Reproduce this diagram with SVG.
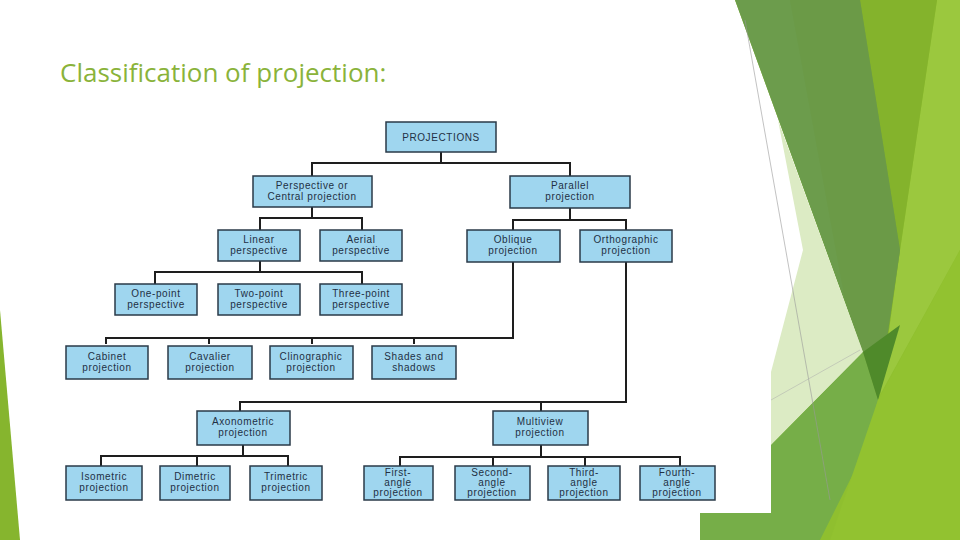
<svg xmlns="http://www.w3.org/2000/svg" width="960" height="540" viewBox="0 0 960 540">
<style>
.b rect{fill:#9fd6ef;stroke:#2a3a48;stroke-width:1.5}
.b text{font-family:"Liberation Sans",Arial,sans-serif;font-size:10px;fill:#223044;text-anchor:middle;letter-spacing:0.6px}
#conn path{fill:none;stroke:#1e1e1e;stroke-width:2}
</style>
<rect width="960" height="540" fill="#fff"/>
<g id="deco">
<polygon points="735,0 960,0 960,540 700,540 700,513 771,513 771,445 863,352" fill="#8fbf2f"/>
<polygon points="937,0 960,0 960,250 880,395 900,250" fill="#9bc83e"/>
<polygon points="860,0 937,0 900,250 880,395" fill="#84b32c"/>
<polygon points="735,0 860,0 900,250 878,400 863,352" fill="#6c9c4c"/>
<polygon points="790,0 860,0 900,250 878,400 845,300" fill="#6a9a44" opacity="0.6"/>
<polygon points="778,120 803,250 771,372 771,445 863,352" fill="#dcebc4"/>
<polygon points="771,445 863,352 878,400 860,460 820,540 700,540 700,513 771,513" fill="#76ae48"/>
<polygon points="863,352 878,400 900,325" fill="#4f8a2a"/>
<polygon points="878,400 960,250 960,540 830,540" fill="#92c230"/>
<polygon points="0,310 20,540 0,540" fill="#86b52e"/>
<line x1="745" y1="20" x2="830" y2="500" stroke="#999" stroke-width="0.6"/>
<line x1="771" y1="400" x2="860" y2="350" stroke="#aaa" stroke-width="0.5"/>
</g>
<text x="60" y="82" font-family="'Open Sans','Liberation Sans',sans-serif" font-size="26" fill="#8ab33a">Classification of projection:</text>
<g id="conn">
<path d="M441,152V163M312,176V163H570V176"/>
<path d="M312,207V218M260,230V218H362V230"/>
<path d="M570,208V220M513,230V220H626V230"/>
<path d="M260,261V272M155,284V272H362V284"/>
<path d="M513,262V338H106V344M209,338V344M312,338V344M414,338V344"/>
<path d="M626,262V402H240V411M541,402V411"/>
<path d="M243,445V456M101,466V456H288V466M197,456V466"/>
<path d="M541,445V457M400,466V457H680V466M493,457V466M585,457V466"/>
</g>
<g id="n0" class="b"><rect x="386" y="122" width="110" height="30"/><text x="441" y="141">PROJECTIONS</text></g>
<g id="n1" class="b"><rect x="253" y="176" width="119" height="31"/><text x="312" y="189">Perspective or</text><text x="312" y="200">Central projection</text></g>
<g id="n2" class="b"><rect x="510" y="176" width="120" height="32"/><text x="570" y="189">Parallel</text><text x="570" y="200">projection</text></g>
<g id="n3" class="b"><rect x="218" y="230" width="82" height="31"/><text x="259" y="243">Linear</text><text x="259" y="254">perspective</text></g>
<g id="n4" class="b"><rect x="320" y="230" width="82" height="31"/><text x="361" y="243">Aerial</text><text x="361" y="254">perspective</text></g>
<g id="n5" class="b"><rect x="467" y="230" width="93" height="32"/><text x="513" y="243">Oblique</text><text x="513" y="254">projection</text></g>
<g id="n6" class="b"><rect x="580" y="230" width="92" height="32"/><text x="626" y="243">Orthographic</text><text x="626" y="254">projection</text></g>
<g id="n7" class="b"><rect x="115" y="284" width="82" height="31"/><text x="156" y="297">One-point</text><text x="156" y="308">perspective</text></g>
<g id="n8" class="b"><rect x="218" y="284" width="82" height="31"/><text x="259" y="297">Two-point</text><text x="259" y="308">perspective</text></g>
<g id="n9" class="b"><rect x="320" y="284" width="82" height="31"/><text x="361" y="297">Three-point</text><text x="361" y="308">perspective</text></g>
<g id="n10" class="b"><rect x="66" y="346" width="82" height="33"/><text x="107" y="360">Cabinet</text><text x="107" y="371">projection</text></g>
<g id="n11" class="b"><rect x="168" y="346" width="84" height="33"/><text x="210" y="360">Cavalier</text><text x="210" y="371">projection</text></g>
<g id="n12" class="b"><rect x="270" y="346" width="83" height="33"/><text x="311" y="360">Clinographic</text><text x="311" y="371">projection</text></g>
<g id="n13" class="b"><rect x="372" y="346" width="84" height="33"/><text x="414" y="360">Shades and</text><text x="414" y="371">shadows</text></g>
<g id="n14" class="b"><rect x="197" y="411" width="93" height="34"/><text x="243" y="425">Axonometric</text><text x="243" y="436">projection</text></g>
<g id="n15" class="b"><rect x="493" y="411" width="95" height="34"/><text x="540" y="425">Multiview</text><text x="540" y="436">projection</text></g>
<g id="n16" class="b"><rect x="66" y="466" width="76" height="34"/><text x="104" y="480">Isometric</text><text x="104" y="491">projection</text></g>
<g id="n17" class="b"><rect x="160" y="466" width="70" height="34"/><text x="195" y="480">Dimetric</text><text x="195" y="491">projection</text></g>
<g id="n18" class="b"><rect x="250" y="466" width="72" height="34"/><text x="286" y="480">Trimetric</text><text x="286" y="491">projection</text></g>
<g id="n19" class="b"><rect x="364" y="466" width="69" height="34"/><text x="398" y="476">First-</text><text x="398" y="486">angle</text><text x="398" y="496">projection</text></g>
<g id="n20" class="b"><rect x="455" y="466" width="75" height="34"/><text x="492" y="476">Second-</text><text x="492" y="486">angle</text><text x="492" y="496">projection</text></g>
<g id="n21" class="b"><rect x="548" y="466" width="72" height="34"/><text x="584" y="476">Third-</text><text x="584" y="486">angle</text><text x="584" y="496">projection</text></g>
<g id="n22" class="b"><rect x="640" y="466" width="75" height="34"/><text x="677" y="476">Fourth-</text><text x="677" y="486">angle</text><text x="677" y="496">projection</text></g>
</svg>
